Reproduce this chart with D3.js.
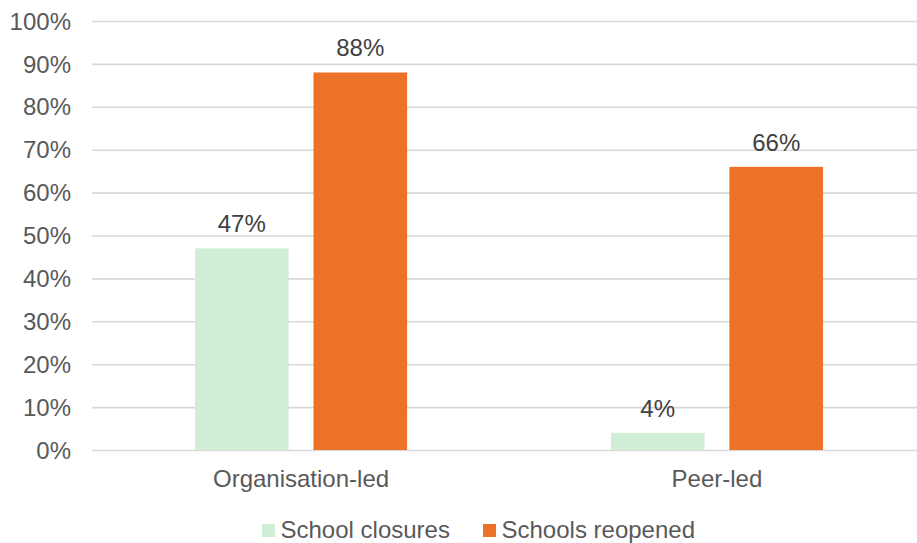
<!DOCTYPE html>
<html>
<head>
<meta charset="utf-8">
<script src="https://cdn.jsdelivr.net/npm/d3@7/dist/d3.min.js"></script>
<style>
  html, body { margin: 0; padding: 0; background: #fff; }
  svg { display: block; font-family: "Liberation Sans", Arial, sans-serif; }
</style>
</head>
<body>
<svg id="chart" width="917" height="543"></svg>
<script>
// Share of respondents by delivery model, before and after schools reopened
const categories = ["Organisation-led", "Peer-led"];
const seriesNames = ["School closures", "Schools reopened"];
const schoolClosures = [47, 4];
const schoolsReopened = [88, 66];
const yTicks = [0, 10, 20, 30, 40, 50, 60, 70, 80, 90, 100];
const seriesColors = ["#d0edd6", "#ec7228"];

const seriesValues = [schoolClosures, schoolsReopened];
const rows = categories.map((c, i) => ({
  category: c,
  values: seriesNames.map((s, j) => ({ series: s, value: seriesValues[j][i] }))
}));

const svg = d3.select("#chart");
const W = 917;
const plotLeft = 92, plotTop = 21, plotBottom = 450;
const fontSize = "24px";

const y = d3.scaleLinear().domain([0, 100]).range([plotBottom, plotTop]);

const x0 = d3.scaleBand()
  .domain(categories)
  .range([plotLeft, 926])
  .paddingInner(0.49)
  .paddingOuter(0.2476);

const x1 = d3.scaleBand()
  .domain(seriesNames)
  .range([0, x0.bandwidth()])
  .paddingInner(0.21)
  .paddingOuter(0);

const color = d3.scaleOrdinal().domain(seriesNames).range(seriesColors);

// Gridlines and y tick labels
const yAxis = d3.axisLeft(y)
  .tickValues(yTicks)
  .tickFormat(d => d + "%")
  .tickSizeInner(-(W - plotLeft))
  .tickSizeOuter(0)
  .tickPadding(21);

const gy = svg.append("g")
  .attr("transform", `translate(${plotLeft},0)`)
  .call(yAxis);
gy.select(".domain").remove();
gy.selectAll(".tick line").attr("stroke", "#d9d9d9").attr("stroke-width", 1.6);
gy.selectAll(".tick text")
  .attr("fill", "#595959")
  .style("font-size", fontSize)
  .attr("dy", "0.34em");

// Bars
const groups = svg.append("g").selectAll("g")
  .data(rows)
  .join("g")
  .attr("transform", d => `translate(${x0(d.category)},0)`);

groups.selectAll("rect")
  .data(d => d.values)
  .join("rect")
  .attr("x", d => x1(d.series))
  .attr("y", d => y(d.value))
  .attr("width", x1.bandwidth())
  .attr("height", d => y(0) - y(d.value))
  .attr("fill", d => color(d.series));

// Value labels
groups.selectAll("text.value")
  .data(d => d.values)
  .join("text")
  .attr("class", "value")
  .attr("x", d => x1(d.series) + x1.bandwidth() / 2)
  .attr("y", d => y(d.value) - 16)
  .attr("text-anchor", "middle")
  .attr("fill", "#404040")
  .style("font-size", fontSize)
  .text(d => d.value + "%");

// Category labels
svg.append("g").selectAll("text")
  .data(categories)
  .join("text")
  .attr("x", d => x0(d) + x0.bandwidth() / 2)
  .attr("y", 487)
  .attr("text-anchor", "middle")
  .attr("fill", "#595959")
  .style("font-size", fontSize)
  .text(d => d);

// Legend
const legendX = [262, 483];
const legend = svg.append("g").selectAll("g")
  .data(seriesNames)
  .join("g")
  .attr("transform", (d, i) => `translate(${legendX[i]},0)`);
legend.append("rect")
  .attr("x", 0).attr("y", 524)
  .attr("width", 13).attr("height", 13)
  .attr("fill", d => color(d));
legend.append("text")
  .attr("x", 18.5).attr("y", 538)
  .attr("fill", "#595959")
  .style("font-size", fontSize)
  .text(d => d);
</script>
</body>
</html>
